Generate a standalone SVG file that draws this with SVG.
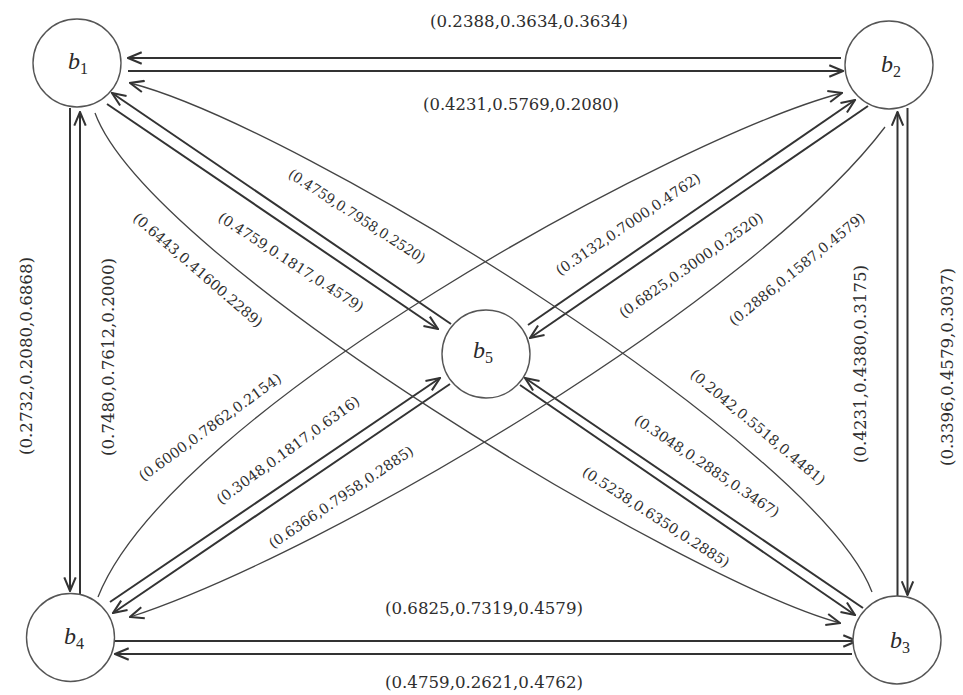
<svg xmlns="http://www.w3.org/2000/svg" width="963" height="695" viewBox="0 0 963 695">
<style>
.node{fill:#fff;stroke:#555;stroke-width:1.4}
.nl{font-family:"Liberation Serif",serif;font-style:italic;font-size:24px;fill:#2a2a2a}
.nl .s{font-size:16px;font-style:normal}
.dl{fill:none;stroke:#333;stroke-width:2;marker-end:url(#ah)}
.cv{fill:none;stroke:#444;stroke-width:1.3;marker-end:url(#ah)}
.lb{font-family:"DejaVu Serif",serif;font-size:16.5px;fill:#2e2e2e;text-anchor:middle}
.dg{font-family:"DejaVu Serif",serif;font-size:14.2px;fill:#2e2e2e;text-anchor:middle}
</style>
<defs>
<marker id="ah" markerUnits="userSpaceOnUse" markerWidth="16" markerHeight="14" viewBox="0 0 14 12" refX="13" refY="6" orient="auto">
<path d="M1,1 L13,6 L1,11" fill="none" stroke="#333" stroke-width="1.8"/>
</marker>
</defs>
<rect width="963" height="695" fill="#fff"/>
<g id="connectors">
<path class="dl" d="M841,58 L128,58"/>
<path class="dl" d="M128,71 L843,71"/>
<path class="dl" d="M70,108 L70,591"/>
<path class="dl" d="M80,594 L80,112"/>
<path class="dl" d="M897.5,597 L897.5,112"/>
<path class="dl" d="M907.5,108 L907.5,595"/>
<path class="dl" d="M115,641 L857,641"/>
<path class="dl" d="M852,654 L115,654"/>
<path class="dl" d="M451,324 L112,93"/>
<path class="dl" d="M107,104 L438,329"/>
<path class="dl" d="M528,325 L855,100"/>
<path class="dl" d="M868,106 L530,338"/>
<path class="dl" d="M110,602 L440,378"/>
<path class="dl" d="M450,384 L113,613"/>
<path class="dl" d="M863,608 L525,378"/>
<path class="dl" d="M520,385 L855,615"/>
<path class="cv" d="M872,592 C818,448 301,127 130,83"/>
<path class="cv" d="M95,113 C150,262 690,583 840,623"/>
<path class="cv" d="M885,127 C756,298 329,552 130,617"/>
<path class="cv" d="M98,597 C171,412 678,136 842,93"/>
</g>
<g id="labels">
<text class="lb" x="529" y="26.5" textLength="198" lengthAdjust="spacingAndGlyphs">(0.2388,0.3634,0.3634)</text>
<text class="lb" x="521" y="110" textLength="196" lengthAdjust="spacingAndGlyphs">(0.4231,0.5769,0.2080)</text>
<text class="lb" x="484" y="613.5" textLength="198" lengthAdjust="spacingAndGlyphs">(0.6825,0.7319,0.4579)</text>
<text class="lb" x="484" y="688" textLength="198" lengthAdjust="spacingAndGlyphs">(0.4759,0.2621,0.4762)</text>
<text class="lb" transform="translate(25.5,356) rotate(-90)" x="0" y="6" textLength="198" lengthAdjust="spacingAndGlyphs">(0.2732,0.2080,0.6868)</text>
<text class="lb" transform="translate(107.5,357) rotate(-90)" x="0" y="6" textLength="198" lengthAdjust="spacingAndGlyphs">(0.7480,0.7612,0.2000)</text>
<text class="lb" transform="translate(859.5,364) rotate(-90)" x="0" y="6" textLength="198" lengthAdjust="spacingAndGlyphs">(0.4231,0.4380,0.3175)</text>
<text class="lb" transform="translate(947,367) rotate(-90)" x="0" y="6" textLength="198" lengthAdjust="spacingAndGlyphs">(0.3396,0.4579,0.3037)</text>
<text class="dg" transform="translate(357,216) rotate(33)" x="0" y="5" textLength="160" lengthAdjust="spacingAndGlyphs">(0.4759,0.7958,0.2520)</text>
<text class="dg" transform="translate(291,262) rotate(33)" x="0" y="5" textLength="170" lengthAdjust="spacingAndGlyphs">(0.4759,0.1817,0.4579)</text>
<text class="dg" transform="translate(198,270) rotate(41)" x="0" y="5" textLength="166" lengthAdjust="spacingAndGlyphs">(0.6443,0.41600.2289)</text>
<text class="dg" transform="translate(628,224) rotate(-34)" x="0" y="5" textLength="171" lengthAdjust="spacingAndGlyphs">(0.3132,0.7000,0.4762)</text>
<text class="dg" transform="translate(691,265) rotate(-35)" x="0" y="5" textLength="172" lengthAdjust="spacingAndGlyphs">(0.6825,0.3000,0.2520)</text>
<text class="dg" transform="translate(797,269) rotate(-39)" x="0" y="5" textLength="170" lengthAdjust="spacingAndGlyphs">(0.2886,0.1587,0.4579)</text>
<text class="dg" transform="translate(210,427) rotate(-36)" x="0" y="5" textLength="172" lengthAdjust="spacingAndGlyphs">(0.6000,0.7862,0.2154)</text>
<text class="dg" transform="translate(288,450) rotate(-36)" x="0" y="5" textLength="173" lengthAdjust="spacingAndGlyphs">(0.3048,0.1817,0.6316)</text>
<text class="dg" transform="translate(341,497) rotate(-34)" x="0" y="5" textLength="171" lengthAdjust="spacingAndGlyphs">(0.6366,0.7958,0.2885)</text>
<text class="dg" transform="translate(758,427) rotate(40)" x="0" y="5" textLength="171" lengthAdjust="spacingAndGlyphs">(0.2042,0.5518,0.4481)</text>
<text class="dg" transform="translate(707,466) rotate(34)" x="0" y="5" textLength="171" lengthAdjust="spacingAndGlyphs">(0.3048,0.2885,0.3467)</text>
<text class="dg" transform="translate(656,517) rotate(33)" x="0" y="5" textLength="172" lengthAdjust="spacingAndGlyphs">(0.5238,0.6350,0.2885)</text>
</g>
<g id="b1"><circle class="node" cx="77" cy="63" r="44"/><text class="nl" x="78" y="69" text-anchor="middle">b<tspan class="s" dy="5">1</tspan></text></g>
<g id="b2"><circle class="node" cx="889" cy="65" r="44"/><text class="nl" x="891" y="72" text-anchor="middle">b<tspan class="s" dy="5">2</tspan></text></g>
<g id="b3"><circle class="node" cx="897" cy="640" r="44"/><text class="nl" x="900" y="648" text-anchor="middle">b<tspan class="s" dy="5">3</tspan></text></g>
<g id="b4"><circle class="node" cx="70.5" cy="637.5" r="44"/><text class="nl" x="74" y="644" text-anchor="middle">b<tspan class="s" dy="5">4</tspan></text></g>
<g id="b5"><circle class="node" cx="486" cy="354" r="44"/><text class="nl" x="483" y="358" text-anchor="middle">b<tspan class="s" dy="5">5</tspan></text></g>
</svg>
